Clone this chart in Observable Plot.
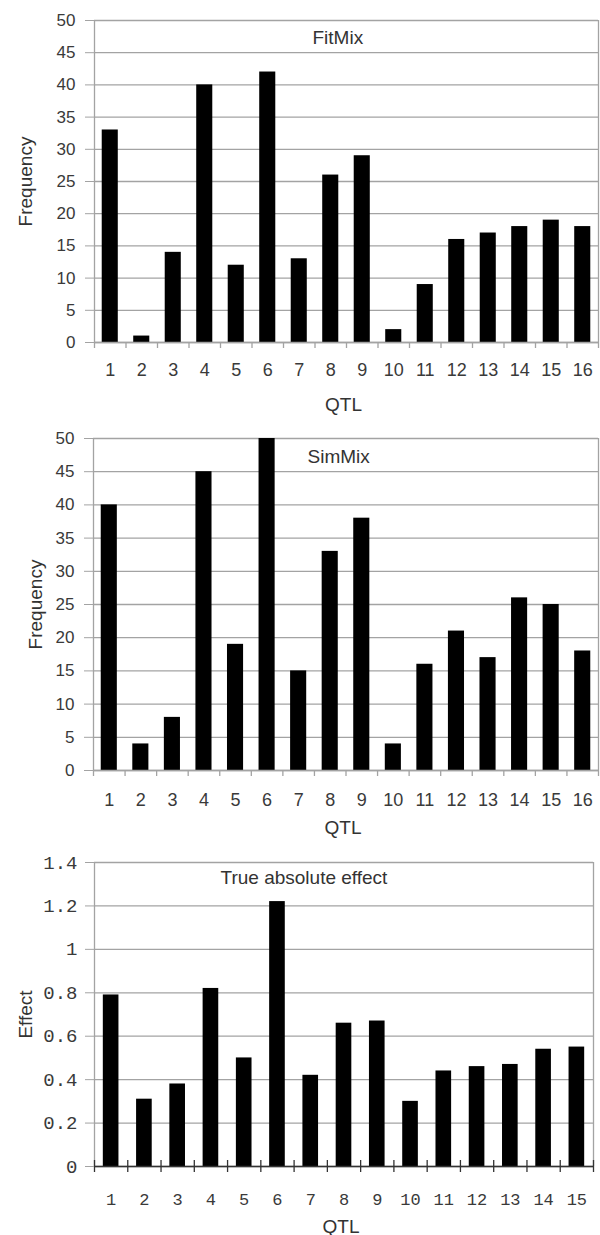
<!DOCTYPE html>
<html>
<head>
<meta charset="utf-8">
<script src="https://cdn.jsdelivr.net/npm/d3@7"></script>
<script src="https://cdn.jsdelivr.net/npm/@observablehq/plot@0.6"></script>
<style>
  html, body { margin: 0; padding: 0; background: white; }
  #wrap { position: relative; width: 600px; height: 1235px; background: white; }
  #wrap > div { position: absolute; left: 0; }
  svg { overflow: visible; }
</style>
</head>
<body>
<div id="wrap"><div id="p1"></div><div id="p2"></div><div id="p3"></div></div>
<script>
// ---- data ----
const qtl16 = [1, 2, 3, 4, 5, 6, 7, 8, 9, 10, 11, 12, 13, 14, 15, 16];
const fitMix = [33, 1, 14, 40, 12, 42, 13, 26, 29, 2, 9, 16, 17, 18, 19, 18];
const simMix = [40, 4, 8, 45, 19, 50, 15, 33, 38, 4, 16, 21, 17, 26, 25, 18];
const qtl15 = [1, 2, 3, 4, 5, 6, 7, 8, 9, 10, 11, 12, 13, 14, 15];
const trueEffect = [0.79, 0.31, 0.38, 0.82, 0.50, 1.22, 0.42, 0.66, 0.67, 0.30, 0.44, 0.46, 0.47, 0.54, 0.55];
const freqTicks = [0, 5, 10, 15, 20, 25, 30, 35, 40, 45, 50];
const effectTicks = [0, 0.2, 0.4, 0.6, 0.8, 1, 1.2, 1.4];

const SANS = "'Liberation Sans', Arial, sans-serif";
const MONO = "'Liberation Mono', 'Courier New', monospace";

function panel(o) {
  const data = o.cats.map((q, i) => ({q, v: o.values[i]}));
  const bounds = [...o.cats.map(q => q - 0.5), o.cats[o.cats.length - 1] + 0.5];
  const x0 = bounds[0], x1 = bounds[bounds.length - 1];
  return Plot.plot({
    width: 600,
    height: o.height,
    marginTop: o.mt, marginBottom: o.mb, marginLeft: o.ml, marginRight: o.mr,
    x: {domain: [x0, x1], axis: null, label: null},
    y: {domain: [o.yTicks[0], o.yTicks[o.yTicks.length - 1]], axis: null, label: null},
    style: {background: "transparent", fontFamily: SANS, overflow: "visible"},
    marks: [
      Plot.gridY(o.yTicks, {stroke: "#a3a3a3", strokeOpacity: 1, strokeWidth: 1.3}),
      Plot.ruleX([x0, x1], {stroke: "#a3a3a3", strokeWidth: 1.3}),
      Plot.rectY(data, {x1: d => d.q - o.hw, x2: d => d.q + o.hw, y: "v", fill: "black"}),
      Plot.ruleY([0], {stroke: o.xAxisColor, strokeWidth: 1.3}),
      Plot.ruleX(bounds, {y1: 0, y2: 0, insetTop: o.tickUp, insetBottom: -6, stroke: o.xAxisColor, strokeWidth: 1.3}),
      Plot.axisY(o.yTicks, {tickSize: 9, tickPadding: o.yPad, stroke: "#a3a3a3", fill: "#3a3a3a",
        fontSize: o.yFont, fontFamily: o.yFamily, tickFormat: o.yFormat, label: null}),
      Plot.axisX(o.cats, {tickSize: 0, tickPadding: o.xPad, fill: "#3a3a3a",
        fontSize: o.xFont, fontFamily: o.xFamily, label: null}),
      Plot.text([o.title], {text: d => d, frameAnchor: "top-left", dx: o.titleDx, dy: o.titleDy,
        textAnchor: "start", lineAnchor: "bottom", fontSize: 19, fill: "#333", fontFamily: SANS}),
      Plot.text([o.yLabel], {text: d => d, frameAnchor: "left", dx: o.yLabelDx, rotate: -90,
        textAnchor: "middle", lineAnchor: "bottom", fontSize: 19, fill: "#333", fontFamily: SANS}),
      Plot.text(["QTL"], {text: d => d, frameAnchor: "bottom", dx: -3, dy: o.qtlDy,
        textAnchor: "middle", lineAnchor: "bottom", fontSize: 19, fill: "#333", fontFamily: SANS})
    ]
  });
}

const common = {yFamily: SANS, xFamily: SANS, yFont: 17, xFont: 18, xAxisColor: "#a3a3a3", tickUp: 0,
  yFormat: d => String(d)};

const c1 = panel({...common, cats: qtl16, values: fitMix, yTicks: freqTicks, title: "FitMix", yLabel: "Frequency",
  height: 412, mt: 20, mb: 70, ml: 94, mr: 2, hw: 0.255, yPad: 10, xPad: 21,
  titleDx: 218, titleDy: 23, yLabelDx: -63, qtlDy: 68});
const c2 = panel({...common, cats: qtl16, values: simMix, yTicks: freqTicks, title: "SimMix", yLabel: "Frequency",
  height: 420, mt: 26, mb: 62, ml: 93, mr: 2, hw: 0.255, yPad: 10, xPad: 23,
  titleDx: 214, titleDy: 24, yLabelDx: -52, qtlDy: 63});
const c3 = panel({...common, cats: qtl15, values: trueEffect, yTicks: effectTicks, title: "True absolute effect",
  yLabel: "Effect", height: 403, mt: 30, mb: 69, ml: 94, mr: 7, hw: 0.235, yPad: 8, xPad: 26,
  yFamily: MONO, xFamily: MONO, yFont: 19, xFont: 17, xAxisColor: "#333", tickUp: -6,
  yFormat: d => String(+d.toFixed(1)),
  titleDx: 126, titleDy: 21, yLabelDx: -63, qtlDy: 66});

const p1 = document.getElementById("p1"); p1.style.top = "0px"; p1.append(c1);
const p2 = document.getElementById("p2"); p2.style.top = "412px"; p2.append(c2);
const p3 = document.getElementById("p3"); p3.style.top = "832px"; p3.append(c3);
</script>
</body>
</html>
